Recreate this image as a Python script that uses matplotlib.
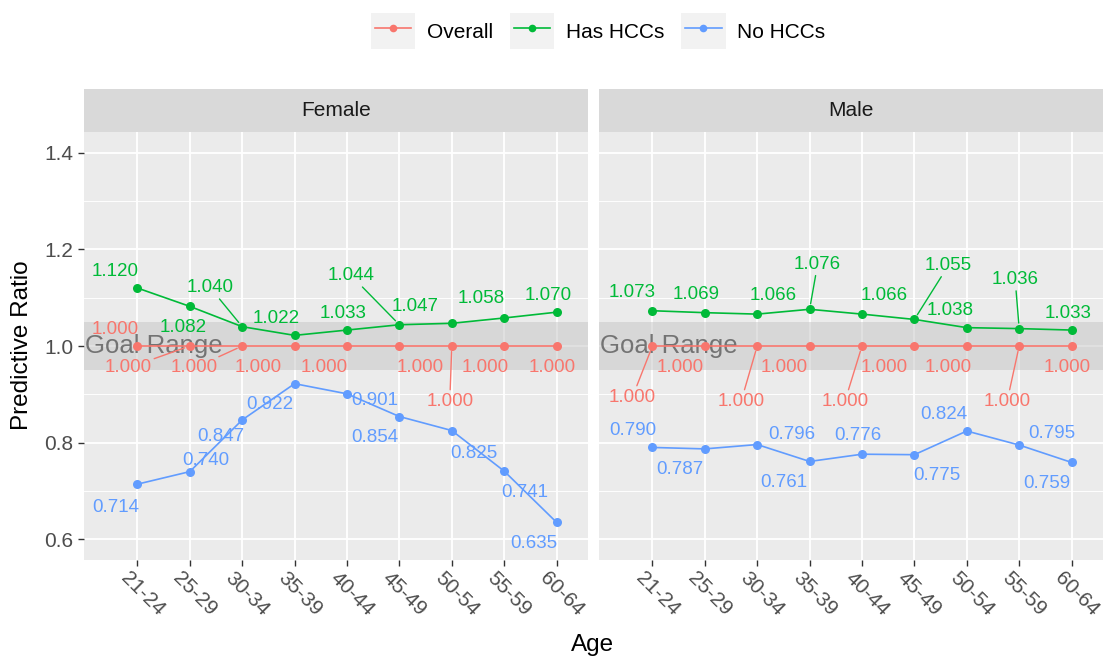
import matplotlib
matplotlib.use('Agg')
import matplotlib.pyplot as plt
import matplotlib.transforms as mtransforms
from matplotlib.legend_handler import HandlerLine2D
from matplotlib.patches import Rectangle
from matplotlib.lines import Line2D

plt.rcParams['font.family'] = ['Liberation Sans', 'DejaVu Sans']

# ---------------- data ----------------
ages = ["21-24", "25-29", "30-34", "35-39", "40-44", "45-49", "50-54", "55-59", "60-64"]
panels = ["Female", "Male"]
series_names = ["Overall", "Has HCCs", "No HCCs"]

female_overall = [1.000, 1.000, 1.000, 1.000, 1.000, 1.000, 1.000, 1.000, 1.000]
female_has = [1.120, 1.082, 1.040, 1.022, 1.033, 1.044, 1.047, 1.058, 1.070]
female_no = [0.714, 0.740, 0.847, 0.922, 0.901, 0.854, 0.825, 0.741, 0.635]

male_overall = [1.000, 1.000, 1.000, 1.000, 1.000, 1.000, 1.000, 1.000, 1.000]
male_has = [1.073, 1.069, 1.066, 1.076, 1.066, 1.055, 1.038, 1.036, 1.033]
male_no = [0.790, 0.787, 0.796, 0.761, 0.776, 0.775, 0.824, 0.795, 0.759]

goal_low, goal_high = 0.95, 1.05
goal_text = "Goal Range"
y_ticks = [0.6, 0.8, 1.0, 1.2, 1.4]
y_minor = [0.7, 0.9, 1.1, 1.3]

# ---------------- style / layout ----------------
colors = {"Overall": "#F8766D", "Has HCCs": "#00BA38", "No HCCs": "#619CFF"}

# label offsets in pixels (dx right, dy down) relative to the point (repel-like placement)
label_offsets = {
    "Female": {
        "Has HCCs": [(-22, -17), (-7, 21), (-32, -39), (-18, -17), (-4, -17), (-48, -49), (-37, -17), (-23, -19), (-8, -17)],
        "Overall": [(-22, -17), (-62, 22), (-48, 22), (-36, 22), (-23, 22), (21, 21), (-2, 55), (-19, 22), (-4, 21)],
        "No HCCs": [(-22, 23), (16, -11), (-21, 17), (-25, 21), (28, 7), (-25, 21), (22, 23), (21, 21), (-23, 21)],
    },
    "Male": {
        "Has HCCs": [(-20, -18), (-9, -18), (16, -19), (8, -45), (22, -19), (34, -54), (-17, -17), (-4, -49), (-4, -17)],
        "Overall": [(-20, 51), (-25, 21), (-16, 55), (-25, 22), (-17, 55), (-30, 22), (-19, 22), (-12, 55), (-4, 21)],
        "No HCCs": [(-20, -17), (-25, 21), (35, -10), (-26, 21), (-4, -19), (22, 21), (-23, -17), (33, -12), (-25, 21)],
    },
}
segments = {
    "Female": {"Has HCCs": [2, 5], "Overall": [1, 2, 6], "No HCCs": []},
    "Male": {"Has HCCs": [3, 5, 7], "Overall": [0, 2, 4, 7], "No HCCs": []},
}

data = {
    "Female": {"Overall": female_overall, "Has HCCs": female_has, "No HCCs": female_no},
    "Male": {"Overall": male_overall, "Has HCCs": male_has, "No HCCs": male_no},
}

W, H = 1106, 661
fig = plt.figure(figsize=(W / 100, H / 100), dpi=100)

panel_x = [(84, 588), (599, 1103)]
p_top, p_bot = 132, 560
s_top = 89
x_pos = list(range(len(ages)))

for k, name in enumerate(panels):
    l, r = panel_x[k]
    ax = fig.add_axes([l / W, 1 - p_bot / H, (r - l) / W, (p_bot - p_top) / H])
    ax.set_facecolor('#EBEBEB')
    for sp in ax.spines.values():
        sp.set_visible(False)
    ax.set_xlim(-1.02, 8.6)
    ax.set_ylim(0.557, 1.443)
    ax.set_axisbelow(True)
    ax.set_yticks(y_ticks)
    ax.set_yticks(y_minor, minor=True)
    ax.set_xticks(x_pos)
    ax.grid(True, which='major', color='white', linewidth=1.3)
    ax.grid(True, which='minor', axis='y', color='white', linewidth=0.65)
    ax.tick_params(which='minor', length=0)
    ax.tick_params(axis='both', which='major', colors='#333333', length=4.3, width=1.0,
                   labelsize=15, labelcolor='#4D4D4D')
    ax.tick_params(axis='y', pad=3.5)
    ax.tick_params(axis='x', pad=2)
    if k == 0:
        ax.set_yticklabels([f"{v:.1f}" for v in y_ticks])
    else:
        ax.tick_params(axis='y', length=0, labelleft=False)
    ax.set_xticklabels(ages, rotation=-45, ha='left', va='top', rotation_mode='anchor')
    off = mtransforms.ScaledTranslation(-7 / 100, 0, fig.dpi_scale_trans)
    for lab in ax.get_xticklabels():
        lab.set_transform(lab.get_transform() + off)

    ax.axhspan(goal_low, goal_high, color='#C4C4C4', alpha=0.5, lw=0, zorder=0.8)
    ax.text(-1.0, 1.0, goal_text, ha='left', va='center', fontsize=18.5,
            color='#5A5A5A', alpha=0.8, zorder=1.5)

    for s in series_names:
        vals = data[name][s]
        c = colors[s]
        ax.plot(x_pos, vals, color=c, lw=1.2, marker='o', markersize=6.5,
                markeredgewidth=0, zorder=2 if s != "Overall" else 2.2)
        for i, v in enumerate(vals):
            dx, dy = label_offsets[name][s][i]
            kw = {}
            if i in segments[name][s]:
                kw['arrowprops'] = dict(arrowstyle='-', color=c, lw=1.0, shrinkA=0, shrinkB=4)
            ax.annotate(f"{v:.3f}", xy=(i, v), xytext=(dx, -dy), textcoords='offset pixels',
                        ha='center', va='center', fontsize=13.5, color=c, zorder=4, **kw)

    # strip
    sax = fig.add_axes([l / W, 1 - p_top / H, (r - l) / W, (p_top - s_top) / H])
    sax.set_facecolor('#D9D9D9')
    sax.set_xticks([])
    sax.set_yticks([])
    for sp in sax.spines.values():
        sp.set_visible(False)
    sax.text(0.5, 0.5, name, ha='center', va='center', fontsize=15, color='#1A1A1A',
             transform=sax.transAxes)

fig.text(22 / W, 1 - 345 / H, "Predictive Ratio", rotation=90, ha='center', va='center',
         fontsize=17.5, color='black')
fig.text(593 / W, 1 - 645 / H, "Age", ha='center', va='center', fontsize=17.5, color='black')


class KeyHandler(HandlerLine2D):
    def create_artists(self, legend, orig_handle, xdescent, ydescent, width, height,
                       fontsize, trans):
        pad = 3
        bg = Rectangle((-xdescent - pad, -ydescent - pad), width + 2 * pad, height + 2 * pad,
                       facecolor='#F2F2F2', edgecolor='none', transform=trans)
        arts = super().create_artists(legend, orig_handle, xdescent, ydescent, width, height,
                                      fontsize, trans)
        return [bg] + list(arts)


handles = [Line2D([], [], color=colors[s], lw=1.2, marker='o', markersize=5.5, markeredgewidth=0)
           for s in series_names]
fig.legend(handles, series_names, loc='center', bbox_to_anchor=(600 / W, 1 - 31 / H), ncol=3,
           frameon=False, fontsize=15, numpoints=1, handlelength=1.75, handleheight=1.6,
           handletextpad=0.75, columnspacing=1.0,
           handler_map={Line2D: KeyHandler(numpoints=1)})

fig.savefig('out.png', dpi=100)
